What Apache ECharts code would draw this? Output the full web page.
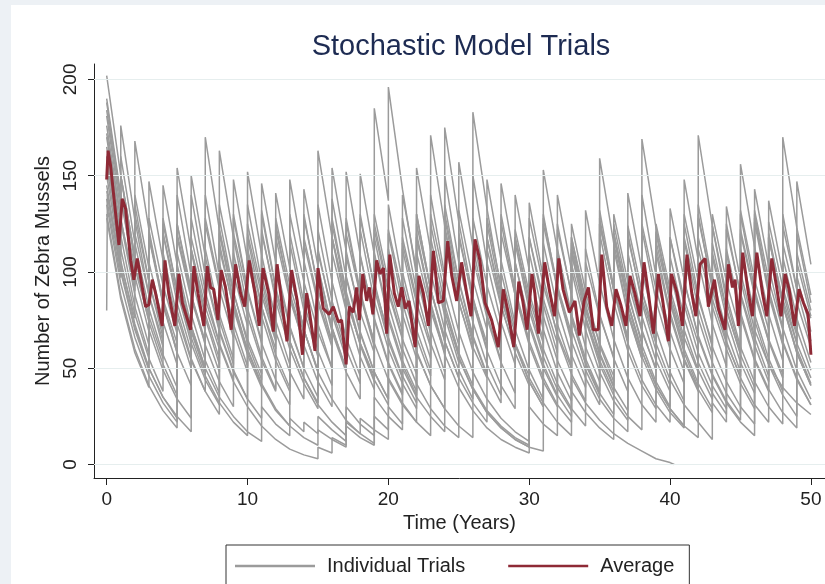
<!DOCTYPE html>
<html>
<head>
<meta charset="utf-8">
<script src="https://cdn.jsdelivr.net/npm/echarts@6.0.0/dist/echarts.min.js"></script>
<style>
html,body{margin:0;padding:0;width:825px;height:584px;background:#edf1f5;overflow:hidden;}
#chart{position:absolute;left:11px;top:5px;width:814px;height:579px;background:#ffffff;}
</style>
</head>
<body>
<div id="chart"></div>
<script>
const xTicks = [0, 10, 20, 30, 40, 50];
const yTicks = [0, 50, 100, 150, 200];

const trialH1 = [[0,190],[1,140],[2,97],[2,168],[3,122],[4,84],[5,58],[5,154],[6,111],[7,76],[8,52],[8,163],[9,118],[10,81],[11,56],[12,39],[12,141],[13,102],[14,70],[15,48],[15,163],[16,118],[17,81],[18,56],[19,39],[19,185],[20,137],[20,196],[21,143],[22,98],[23,68],[23,171],[24,124],[25,85],[26,59],[26,183],[27,133],[28,91],[29,63],[30,43],[31,30],[31,153],[32,111],[33,76],[34,52],[35,36],[35,159],[36,115],[37,79],[38,55],[38,169],[39,123],[40,84],[41,58],[42,40],[42,171],[43,124],[44,85],[45,59],[45,156],[46,113],[47,78],[48,54],[48,170],[49,123],[50,88]];
const trialH2 = [[0,170],[1,122],[1,176],[2,127],[3,88],[4,61],[4,145],[5,104],[6,72],[7,50],[7,170],[8,122],[9,84],[10,58],[10,152],[11,109],[12,75],[13,52],[13,148],[14,106],[15,73],[16,50],[16,154],[17,111],[18,77],[18,151],[19,109],[20,75],[21,52],[22,36],[22,154],[23,111],[24,77],[25,53],[25,157],[26,113],[27,78],[28,54],[28,146],[29,105],[30,72],[31,50],[32,35],[32,140],[33,101],[34,70],[35,48],[36,33],[37,23],[37,141],[38,101],[39,70],[40,48],[41,33],[41,148],[42,106],[43,73],[44,51],[44,134],[45,96],[46,66],[47,46],[47,137],[48,99],[49,68],[49,147],[50,104]];
const trialH3 = [[0,165],[1,119],[2,82],[3,57],[3,147],[4,106],[5,73],[6,50],[6,150],[7,108],[8,75],[9,52],[9,148],[10,106],[11,73],[11,146],[12,105],[13,72],[14,50],[14,143],[15,103],[16,71],[17,49],[17,152],[18,109],[19,75],[20,52],[21,36],[21,140],[22,101],[23,70],[24,48],[24,175],[25,126],[26,87],[27,60],[27,148],[28,106],[29,73],[29,140],[30,101],[31,70],[32,48],[33,33],[33,125],[34,90],[35,62],[36,43],[36,125],[37,90],[38,62],[39,43],[40,30],[40,133],[41,96],[42,66],[43,46],[44,32],[45,22],[46,15],[46,143],[47,103],[48,71],[49,49],[50,34]];
const trialH4 = [[0,150],[1,106],[2,73],[3,50],[4,35],[5,24],[5,110],[6,78],[7,54],[8,37],[8,120],[9,85],[10,59],[11,41],[12,28],[13,20],[13,100],[14,70],[15,48],[16,34],[17,23],[18,16],[19,11],[19,95],[20,66],[21,46],[22,32],[22,118],[23,83],[24,57],[25,40],[26,28],[27,19],[28,13],[29,9],[30,6],[30,136],[31,97],[32,67],[33,47],[34,33],[34,132],[35,94],[36,65],[37,45],[38,31],[39,22],[39,121],[40,86],[41,60],[42,42],[43,29],[43,124],[44,88],[45,61],[46,43],[47,30],[48,21],[48,90],[49,63],[50,45]];
const trialM1 = [[0,202],[1,150],[2,108],[3,77],[4,55],[4,120],[5,84],[6,59],[6,112],[7,78],[8,55],[8,105],[9,73],[10,51],[10,118],[11,82],[12,57],[13,40],[13,115],[14,80],[15,56],[15,102],[16,71],[17,50],[17,126],[18,88],[19,61],[19,110],[20,77],[21,54],[22,38],[22,120],[23,84],[24,59],[24,128],[25,90],[26,63],[26,108],[27,76],[28,53],[29,37],[29,118],[30,83],[31,58],[31,104],[32,73],[33,51],[33,110],[34,77],[35,54],[36,38],[36,112],[37,78],[38,55],[38,122],[39,85],[40,60],[41,42],[41,116],[42,81],[43,57],[43,108],[44,76],[45,53],[46,37],[46,126],[47,88],[48,62],[48,100],[49,70],[50,49]];
const trialM2 = [[0,188],[1,138],[2,98],[3,69],[3,120],[4,84],[5,59],[5,100],[6,70],[7,49],[7,112],[8,78],[9,55],[9,130],[10,91],[11,64],[11,98],[12,69],[13,48],[14,34],[14,130],[15,91],[16,64],[16,125],[17,88],[18,62],[19,43],[19,118],[20,83],[21,58],[21,100],[22,70],[23,49],[23,125],[24,88],[25,62],[25,96],[26,67],[27,47],[27,118],[28,83],[29,58],[30,41],[30,118],[31,83],[32,58],[32,112],[33,78],[34,55],[35,38],[35,132],[36,92],[37,64],[37,100],[38,70],[39,49],[39,110],[40,77],[41,54],[42,38],[42,135],[43,95],[44,66],[44,110],[45,77],[46,54],[47,38],[47,120],[48,84],[49,59],[49,98],[50,69]];
const trialM3 = [[0,181],[1,132],[1,160],[2,115],[3,81],[4,57],[5,40],[5,140],[6,98],[7,69],[8,48],[8,128],[9,90],[10,63],[11,44],[11,122],[12,85],[13,60],[14,42],[15,29],[15,135],[16,95],[17,66],[18,46],[18,130],[19,91],[20,64],[21,45],[21,128],[22,90],[23,63],[24,44],[24,150],[25,105],[26,74],[27,52],[28,36],[28,126],[29,88],[30,62],[31,43],[32,30],[32,125],[33,88],[34,61],[35,43],[35,120],[36,84],[37,59],[38,41],[39,29],[39,113],[40,79],[41,55],[42,39],[43,27],[43,115],[44,81],[45,57],[46,40],[46,130],[47,91],[48,64],[49,45],[50,31]];
const trialM4 = [[0,176],[1,128],[2,90],[2,135],[3,95],[4,66],[4,110],[5,77],[6,54],[7,38],[7,140],[8,98],[9,69],[10,48],[10,135],[11,95],[12,66],[12,102],[13,71],[14,50],[15,35],[15,112],[16,78],[17,55],[17,98],[18,69],[19,48],[20,34],[20,135],[21,95],[22,66],[23,46],[23,118],[24,83],[25,58],[26,41],[26,150],[27,105],[28,74],[29,52],[29,115],[30,80],[31,56],[32,39],[32,108],[33,76],[34,53],[35,37],[36,26],[36,118],[37,83],[38,58],[38,140],[39,98],[40,69],[41,48],[41,108],[42,76],[43,53],[44,37],[45,26],[45,130],[46,91],[47,64],[48,45],[48,130],[49,91],[50,64]];
const trialM5 = [[0,80],[0.05,140],[1,100],[2,70],[3,49],[3,118],[4,83],[5,58],[6,41],[6,128],[7,90],[8,63],[9,44],[9,110],[10,77],[11,54],[12,38],[12,125],[13,88],[14,62],[15,43],[16,30],[16,128],[17,90],[18,63],[19,44],[20,31],[20,112],[21,78],[22,55],[22,130],[23,91],[24,64],[25,45],[25,120],[26,84],[27,59],[28,41],[29,29],[29,105],[30,74],[31,52],[32,36],[33,25],[33,115],[34,81],[35,57],[36,40],[37,28],[37,120],[38,84],[39,59],[40,41],[40,108],[41,76],[42,53],[43,37],[44,26],[44,125],[45,88],[46,62],[47,43],[47,118],[48,83],[49,58],[50,41]];
const trialM6 = [[0,160],[1,112],[2,78],[3,55],[4,38],[4,128],[5,90],[6,63],[7,44],[8,31],[8,115],[9,81],[10,57],[11,40],[11,132],[12,92],[13,64],[14,45],[15,32],[15,98],[16,69],[17,48],[18,34],[18,122],[19,85],[20,60],[21,42],[22,29],[22,130],[23,91],[24,64],[25,45],[26,32],[27,22],[27,125],[28,88],[29,62],[30,43],[31,30],[31,130],[32,91],[33,64],[34,45],[35,31],[35,128],[36,90],[37,63],[38,44],[39,31],[40,22],[40,118],[41,83],[42,58],[43,41],[44,29],[44,112],[45,79],[46,55],[47,39],[48,27],[49,19],[49,120],[50,84]];
const trialM7 = [[0,155],[1,108],[1,150],[2,105],[3,74],[4,52],[5,36],[5,125],[6,88],[7,62],[8,43],[9,30],[9,128],[10,90],[11,63],[12,44],[13,31],[13,120],[14,84],[15,59],[16,41],[16,138],[17,97],[18,68],[19,48],[20,34],[20,120],[21,84],[22,59],[23,41],[24,29],[24,135],[25,95],[26,66],[27,46],[28,32],[28,130],[29,91],[30,64],[31,45],[32,31],[33,22],[33,118],[34,83],[35,58],[36,41],[36,120],[37,84],[38,59],[39,41],[40,29],[41,20],[41,125],[42,88],[43,61],[44,43],[45,30],[46,21],[46,128],[47,90],[48,63],[49,44],[50,31]];
const trialM8 = [[0,145],[1,102],[2,71],[3,50],[4,35],[5,25],[6,17],[6,140],[7,98],[8,69],[9,48],[10,34],[11,24],[11,130],[12,91],[13,64],[14,45],[15,31],[16,22],[17,15],[17,128],[18,90],[19,63],[20,44],[21,31],[22,22],[23,15],[23,140],[24,98],[25,69],[26,48],[27,34],[28,24],[29,17],[30,12],[30,110],[31,77],[32,54],[33,38],[34,27],[35,19],[36,13],[36,120],[37,84],[38,59],[39,41],[40,29],[41,20],[42,14],[42,130],[43,91],[44,64],[45,45],[46,31],[47,22],[47,118],[48,83],[49,58],[50,41]];
const trialM9 = [[0,138],[1,97],[1,126],[2,88],[3,62],[3,105],[4,74],[5,52],[5,98],[6,69],[7,48],[7,100],[8,70],[9,49],[10,34],[10,110],[11,77],[12,54],[13,38],[13,100],[14,70],[15,49],[15,122],[16,85],[17,60],[18,42],[18,108],[19,76],[20,53],[21,37],[21,112],[22,78],[23,55],[23,100],[24,70],[25,49],[26,34],[26,118],[27,83],[28,58],[28,100],[29,70],[30,49],[31,34],[31,115],[32,81],[33,57],[34,40],[34,112],[35,78],[36,55],[37,38],[37,110],[38,77],[39,54],[40,38],[40,100],[41,70],[42,49],[43,34],[43,98],[44,69],[45,48],[45,112],[46,78],[47,55],[48,38],[48,108],[49,76],[50,53]];
const trialM10 = [[0,184],[1,136],[1,150],[2,108],[2,130],[3,95],[4,69],[4,120],[5,88],[5,118],[6,86],[7,63],[7,125],[8,91],[9,66],[9,120],[10,88],[10,112],[11,82],[12,60],[12,128],[13,93],[14,68],[14,118],[15,86],[16,63],[16,110],[17,80],[17,108],[18,79],[19,58],[19,130],[20,95],[21,69],[21,115],[22,84],[23,61],[23,130],[24,95],[24,122],[25,89],[26,65],[26,128],[27,93],[28,68],[28,120],[29,88],[30,64],[30,118],[31,86],[32,63],[32,122],[33,89],[33,110],[34,80],[35,58],[35,125],[36,91],[37,66],[37,118],[38,86],[39,63],[39,116],[40,85],[41,62],[41,130],[42,95],[42,112],[43,82],[44,60],[44,122],[45,89],[46,65],[46,132],[47,96],[48,70],[48,124],[49,91],[50,76]];
const trialM11 = [[0,172],[1,127],[2,93],[2,140],[3,102],[3,118],[4,86],[5,63],[5,125],[6,91],[6,112],[7,82],[8,60],[8,135],[9,99],[10,72],[10,120],[11,88],[12,64],[12,118],[13,86],[14,63],[14,128],[15,93],[15,110],[16,80],[17,58],[17,120],[18,88],[19,64],[19,125],[20,91],[21,66],[21,118],[22,86],[22,110],[23,80],[24,58],[24,130],[25,95],[25,118],[26,86],[27,63],[27,128],[28,93],[29,68],[29,122],[30,89],[31,65],[31,125],[32,91],[33,66],[33,112],[34,82],[34,105],[35,77],[36,56],[36,120],[37,88],[38,64],[38,125],[39,91],[40,66],[40,118],[41,86],[42,63],[42,128],[43,93],[43,110],[44,80],[45,58],[45,132],[46,96],[47,70],[47,126],[48,92],[49,67],[49,110],[50,80]];
const trialM12 = [[0,158],[1,116],[1,140],[2,102],[3,75],[3,128],[4,93],[5,68],[5,120],[6,88],[7,64],[7,128],[8,93],[8,112],[9,82],[10,60],[10,125],[11,91],[12,66],[12,122],[13,89],[14,65],[14,115],[15,84],[16,61],[16,118],[17,86],[18,63],[18,128],[19,93],[20,68],[20,122],[21,89],[22,65],[22,118],[23,86],[23,110],[24,80],[25,58],[25,132],[26,96],[27,70],[27,112],[28,82],[29,60],[29,118],[30,86],[31,63],[31,128],[32,93],[33,68],[33,104],[34,76],[35,55],[35,125],[36,91],[37,66],[37,124],[38,90],[39,66],[39,120],[40,88],[41,64],[41,118],[42,86],[43,63],[43,130],[44,95],[45,69],[45,120],[46,88],[47,64],[47,118],[48,86],[49,63],[49,105],[50,77]];
const trialM13 = [[0,142],[1,104],[2,76],[2,120],[3,88],[4,64],[4,125],[5,91],[6,66],[6,118],[7,86],[8,63],[8,122],[9,89],[10,65],[11,47],[11,120],[12,88],[13,64],[13,130],[14,95],[15,69],[16,50],[16,118],[17,86],[18,63],[19,46],[19,122],[20,89],[21,65],[22,47],[22,125],[23,91],[24,66],[24,115],[25,84],[26,61],[27,45],[27,118],[28,86],[29,63],[30,46],[30,128],[31,93],[32,68],[33,50],[33,118],[34,86],[35,63],[36,46],[36,130],[37,95],[38,69],[39,50],[39,125],[40,91],[41,66],[42,48],[42,118],[43,86],[44,63],[45,46],[45,122],[46,89],[47,65],[48,47],[48,115],[49,84],[50,61]];
const trialL1 = [[0,135],[1,94],[2,66],[3,46],[4,32],[5,22],[5,95],[6,66],[7,46],[8,32],[9,22],[10,15],[10,60],[11,42],[12,29],[13,20],[14,14],[15,10],[15,18],[16,13],[17,9],[17,22],[18,16],[18,24],[19,18],[20,13],[20,45],[21,32],[22,22],[22,58],[23,41],[24,29],[25,20],[26,14],[26,40],[27,28],[28,20],[29,14],[30,10],[30,30],[31,21],[32,15],[32,40],[33,28],[33,45],[34,32],[35,23],[36,16],[37,11],[38,7],[39,3],[40,1],[40.3,0]];
const trialL2 = [[0,130],[1,88],[2,60],[3,41],[4,28],[5,19],[5,80],[6,55],[7,38],[8,26],[8,62],[9,43],[10,30],[11,20],[12,13],[13,8],[14,5],[15,3],[15,9],[16,6],[16,14],[17,10],[17,20],[18,14],[19,10],[19,25],[20,18],[20,30],[21,21],[21,60],[22,42],[23,29],[24,20],[25,14],[25,55],[26,39],[27,27],[28,19],[29,13],[30,9],[30,45],[31,32],[32,22],[33,15],[33,70],[34,49],[35,34],[36,24],[37,17],[37,80],[38,56],[39,39],[40,27],[41,19],[41,95],[42,67],[43,47],[44,33],[45,23],[45,100],[46,70],[47,52],[48,40],[49,32],[50,26]];
const trialL3 = [[0,128],[1,86],[2,58],[3,40],[3,70],[4,49],[5,34],[6,24],[6,72],[7,50],[8,35],[9,25],[10,17],[11,12],[11,30],[12,21],[13,15],[13,24],[14,17],[14,22],[15,16],[15,25],[16,18],[17,12],[17,30],[18,21],[19,15],[19,35],[20,25],[21,18],[21,50],[22,35],[23,25],[24,17],[24,80],[25,56],[26,39],[27,27],[28,19],[29,13],[30,9],[31,7],[31,60],[32,42],[33,29],[34,20],[34,75],[35,52],[36,36],[37,25],[38,18],[38,90],[39,63],[40,44],[41,31],[42,22],[43,13],[43,32],[44,22],[44,60],[45,42],[46,29],[46,75],[47,52],[48,36],[49,25],[49,60],[50,42]];

const average = [[0,148],[0.1,163],[0.28,155],[0.87,114],[1.1,138],[1.34,133],[1.7,106],[1.93,96],[2.17,107],[2.4,97.5],[2.76,82],[3.0,83],[3.24,96],[3.47,89],[3.94,72],[4.14,106],[4.4,89],[4.84,72],[5.13,99],[5.37,84],[5.96,70],[6.19,103],[6.48,89],[6.9,72],[7.14,103],[7.37,92],[7.6,91],[7.9,75],[8.13,101],[8.44,92],[8.84,70],[9.15,104],[9.5,89],[9.8,82],[10.12,106],[10.53,89],[10.83,72],[11.1,102],[11.5,89],[11.83,69],[12.1,104],[12.42,85],[12.8,64],[13.13,101],[13.53,85],[13.9,57],[14.2,89],[14.48,75],[14.79,59],[15.0,102],[15.38,81],[15.8,78],[16.09,82],[16.45,74],[16.68,75],[17.0,52],[17.23,82],[17.5,79],[17.75,92],[17.94,75],[18.18,99],[18.46,85],[18.65,92],[18.9,78],[19.17,106],[19.4,99],[19.65,102],[19.88,68],[20.1,109],[20.42,89],[20.7,82],[20.95,92],[21.2,81],[21.46,85],[21.9,61],[22.17,98],[22.48,89],[22.84,72],[23.2,111],[23.55,84],[23.9,85],[24.21,116],[24.5,98],[24.85,85],[25.2,105],[25.56,89],[25.87,77],[26.15,117],[26.5,106],[26.86,84],[27.33,75],[27.8,61],[28.16,91],[28.5,79],[28.9,61],[29.26,95],[29.54,85],[29.85,70],[30.2,99],[30.4,89],[30.65,68],[31.1,105],[31.47,89],[31.8,77],[32.1,107],[32.4,91],[32.85,79],[33.25,85],[33.56,67],[33.9,85],[34.2,92],[34.55,70],[34.9,70],[35.15,109],[35.5,82],[35.86,72],[36.16,91],[36.5,83],[36.87,72],[37.16,98],[37.5,89],[37.87,77],[38.15,105],[38.46,89],[38.82,68],[39.17,99],[39.48,85],[39.88,64],[40.1,99],[40.5,89],[40.88,72],[41.2,109],[41.54,89],[41.83,77],[42.13,104],[42.49,107],[42.72,82],[43.15,96],[43.43,81],[43.9,70],[44.14,104],[44.43,92],[44.62,96],[44.85,72],[45.16,110],[45.56,89],[45.85,77],[46.16,110],[46.56,89],[46.87,77],[47.22,107],[47.57,92],[47.88,77],[48.17,99],[48.45,91],[48.83,72],[49.16,91],[49.47,84],[49.8,78],[50,57]];

const trials = [trialH1, trialH2, trialH3, trialH4, trialM1, trialM2, trialM3, trialM4, trialM5, trialM6, trialM7, trialM8, trialM9, trialM10, trialM11, trialM12, trialM13, trialL1, trialL2, trialL3];

const FONT = '"Liberation Sans", Arial, Helvetica, sans-serif';
const GRAY = '#9b9b9b';
const RED = '#8e2a36';
const chart = echarts.init(document.getElementById('chart'), null, {renderer: 'canvas'});

const series = [];
series.push({
  type: 'line', name: '_grid', data: [], silent: true, z: 1,
  markLine: {
    silent: true, symbol: 'none', animation: false,
    label: {show: false},
    lineStyle: {color: '#e6eeee', width: 1.2, type: 'solid'},
    data: yTicks.map(v => ({yAxis: v}))
  }
});
trials.forEach(tr => {
  series.push({
    type: 'line', name: 'Individual Trials', data: tr,
    symbol: 'none', silent: true, z: 3,
    lineStyle: {color: GRAY, width: 1.5},
    itemStyle: {color: GRAY}
  });
});
series.push({
  type: 'line', name: 'Average', data: average,
  symbol: 'none', silent: true, z: 5,
  lineStyle: {color: RED, width: 3},
  itemStyle: {color: RED}
});

chart.setOption({
  animation: false,
  backgroundColor: '#ffffff',
  title: {
    text: 'Stochastic Model Trials',
    left: 445, top: 22, textAlign: 'center',
    textStyle: {fontFamily: FONT, fontSize: 29, fontWeight: 'normal', color: '#1d2b52'}
  },
  grid: {left: 83, right: 0, top: 59, bottom: 106, containLabel: false},
  xAxis: {
    type: 'value', min: -0.9, max: 51,
    name: 'Time (Years)', nameLocation: 'middle', nameGap: 35,
    nameTextStyle: {fontFamily: FONT, fontSize: 20, color: '#222'},
    axisLine: {show: true, onZero: false, lineStyle: {color: '#222', width: 1}},
    axisTick: {show: true, customValues: xTicks, length: 7, lineStyle: {color: '#222'}},
    axisLabel: {show: true, customValues: xTicks, margin: 12, fontFamily: FONT, fontSize: 19, color: '#222'},
    splitLine: {show: false}
  },
  yAxis: {
    type: 'value', min: -7, max: 208,
    name: 'Number of Zebra Mussels', nameLocation: 'middle', nameGap: 32, nameRotate: 90,
    nameTextStyle: {fontFamily: FONT, fontSize: 20, color: '#222'},
    axisLine: {show: true, onZero: false, lineStyle: {color: '#222', width: 1}},
    axisTick: {show: true, customValues: yTicks, length: 6, lineStyle: {color: '#222'}},
    axisLabel: {show: true, customValues: yTicks, rotate: 90, margin: 14, fontFamily: FONT, fontSize: 19, color: '#222'},
    splitLine: {show: false}
  },
  legend: {
    data: [
      {name: 'Individual Trials', icon: 'rect', itemStyle: {color: GRAY}},
      {name: 'Average', icon: 'rect', itemStyle: {color: RED}}
    ],
    left: 215, top: 540,
    orient: 'horizontal',
    itemWidth: 80, itemHeight: 2.5, itemGap: 43,
    padding: [10, 15, 10, 9],
    borderColor: '#333', borderWidth: 1,
    textStyle: {fontFamily: FONT, fontSize: 20, color: '#222', padding: [0, 0, 0, 7], lineHeight: 22},
    selectedMode: false
  },
  series: series
});
</script>
</body>
</html>
